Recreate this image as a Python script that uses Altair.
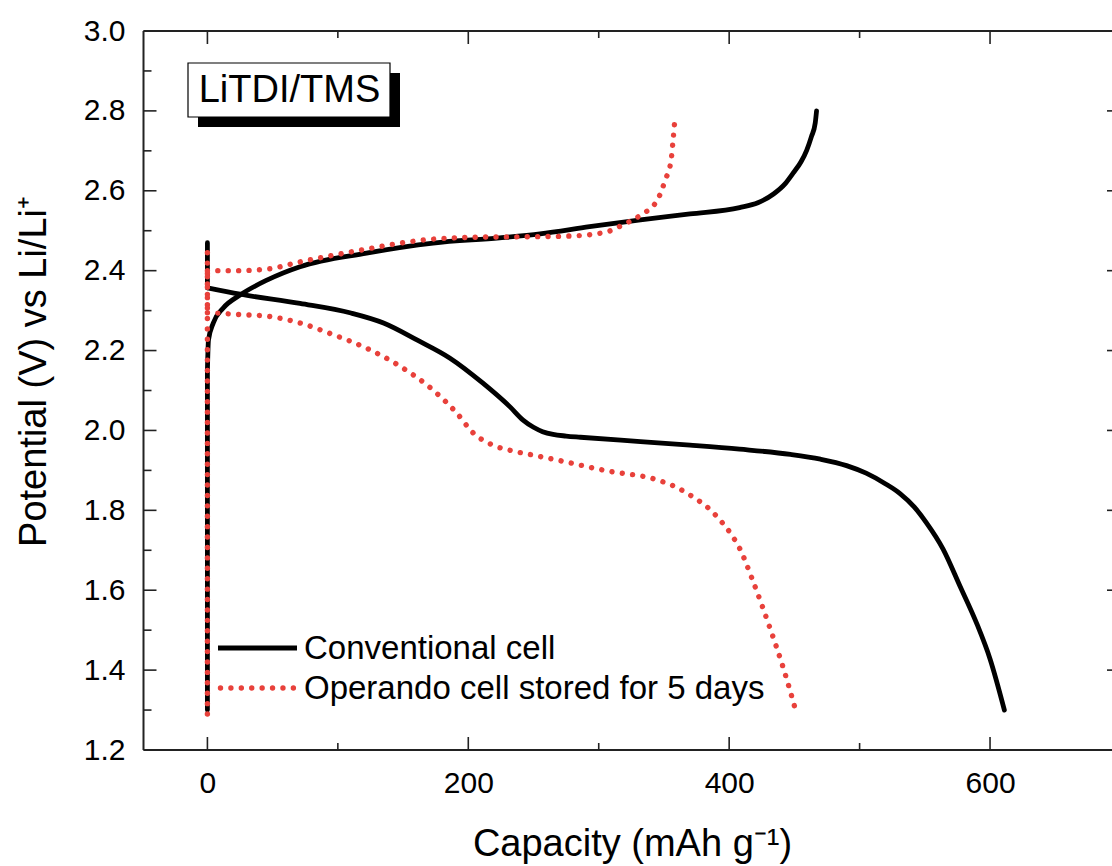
import altair as alt
import pandas as pd

# ---------------- data ----------------
series_names = ["Conventional cell", "Operando cell stored for 5 days"]

conv_dis_c = [0, 0, 25, 71, 110, 135, 161, 186, 211, 232, 242, 250, 257, 265, 275, 286, 332, 370, 408, 447, 470, 490, 505, 520, 531, 542, 551, 564, 577, 590, 600, 611]
conv_dis_v = [2.47, 2.357, 2.341, 2.318, 2.294, 2.269, 2.226, 2.181, 2.119, 2.059, 2.026, 2.008, 1.997, 1.990, 1.986, 1.983, 1.972, 1.963, 1.953, 1.940, 1.928, 1.912, 1.893, 1.866, 1.842, 1.808, 1.770, 1.703, 1.610, 1.515, 1.428, 1.300]

conv_chg_c = [0, 0, 0.8, 4.5, 12, 25, 46, 71, 122, 173, 224, 255, 293, 332, 370, 408, 422, 434, 443, 449, 455, 459.5, 463, 466, 467]
conv_chg_v = [1.30, 2.15, 2.226, 2.269, 2.306, 2.339, 2.377, 2.410, 2.444, 2.469, 2.482, 2.492, 2.510, 2.527, 2.542, 2.558, 2.570, 2.592, 2.618, 2.644, 2.672, 2.702, 2.735, 2.770, 2.800]

op_dis_c = [0, 0, 7, 20, 46, 71, 97, 122, 148, 173, 191, 204, 219, 235, 250, 268, 306, 345, 360, 372, 385, 395, 403, 408, 418, 431, 442, 450.5]
op_dis_v = [2.445, 2.295, 2.294, 2.291, 2.286, 2.269, 2.239, 2.206, 2.160, 2.101, 2.044, 1.993, 1.963, 1.948, 1.938, 1.926, 1.899, 1.876, 1.857, 1.834, 1.803, 1.768, 1.733, 1.705, 1.625, 1.508, 1.400, 1.305]

op_chg_c = [0, 0, 20, 46, 71, 97, 122, 148, 173, 211, 250, 280, 306, 318, 332, 345, 351, 355.5, 357, 358.4]
op_chg_v = [1.29, 2.40, 2.40, 2.404, 2.422, 2.439, 2.454, 2.469, 2.479, 2.484, 2.485, 2.487, 2.497, 2.514, 2.539, 2.577, 2.627, 2.677, 2.727, 2.780]

x_major = [0, 200, 400, 600]
x_minor = [100, 300, 500]
y_major = [1.2, 1.4, 1.6, 1.8, 2.0, 2.2, 2.4, 2.6, 2.8, 3.0]
y_minor = [1.3, 1.5, 1.7, 1.9, 2.1, 2.3, 2.5, 2.7, 2.9]

box_label = "LiTDI/TMS"
x_title = "Capacity (mAh g\u207b\u00b9)"
y_title = "Potential (V) vs Li/Li\u207a"

# ---------------- layout ----------------
W = 968.5
H = 719
X_DOMAIN = [-49, 693.5]
Y_DOMAIN = [1.2, 3.0]
FONT = "Liberation Sans"
BLACK = "#000000"
RED = "#E8413B"
FRAME = "#222222"

xs = alt.Scale(domain=X_DOMAIN, nice=False, zero=False)
ys = alt.Scale(domain=Y_DOMAIN, nice=False, zero=False)


def curve_df(cs, vs, name):
    # split the vertical rest segment (first two points) from the smooth part
    parts = [
        pd.DataFrame({"c": cs[:2], "v": vs[:2], "curve": name + "_rest", "i": range(2)}),
        pd.DataFrame({"c": cs[1:], "v": vs[1:], "curve": name, "i": range(len(cs) - 1)}),
    ]
    return pd.concat(parts)


conv = pd.concat([curve_df(conv_dis_c, conv_dis_v, "dis"), curve_df(conv_chg_c, conv_chg_v, "chg")])
op = pd.concat([curve_df(op_dis_c, op_dis_v, "dis"), curve_df(op_chg_c, op_chg_v, "chg")])

x_axis = alt.Axis(values=x_major, format="d", ticks=False, tickSize=0, domain=False, grid=False,
                  labelFont=FONT, labelFontSize=30, labelColor=BLACK, labelBaseline="alphabetic",
                  labelPadding=42, title=x_title, titleFont=FONT, titleFontSize=38,
                  titleFontWeight="normal", titleColor=BLACK, titleX=488.5, titleY=105,
                  titleAlign="center", titleBaseline="alphabetic")
y_axis = alt.Axis(values=y_major, format=".1f", ticks=False, tickSize=0, domain=False, grid=False,
                  labelFont=FONT, labelFontSize=30, labelColor=BLACK, labelBaseline="middle",
                  labelPadding=18.5, title=y_title, titleFont=FONT, titleFontSize=38,
                  titleFontWeight="normal", titleColor=BLACK, titleX=-98, titleY=340,
                  titleAngle=270, titleAlign="center", titleBaseline="alphabetic")

X = lambda f: alt.X(f, scale=xs, axis=x_axis)
Y = lambda f: alt.Y(f, scale=ys, axis=y_axis)

conv_line = alt.Chart(conv).mark_line(color=BLACK, strokeWidth=4.8, strokeCap="round", strokeJoin="round",
                                      interpolate="monotone").encode(
    x=X("c:Q"), y=Y("v:Q"), detail="curve:N", order="i:Q",
)
op_line = alt.Chart(op).mark_line(color=RED, strokeWidth=5.4, strokeCap="round", strokeDash=[0.01, 10.4],
                                  interpolate="monotone").encode(
    x=X("c:Q"), y=Y("v:Q"), detail="curve:N", order="i:Q",
)

one = pd.DataFrame({"k": [0]})
frame_left = alt.Chart(one).mark_rule(color=FRAME, strokeWidth=2).encode(
    x=alt.value(0), y=alt.value(0), y2=alt.value(H))
frame_top = alt.Chart(one).mark_rule(color=FRAME, strokeWidth=2).encode(
    y=alt.value(0), x=alt.value(0), x2=alt.value(W))
frame_bottom = alt.Chart(one).mark_rule(color=FRAME, strokeWidth=2).encode(
    y=alt.value(H), x=alt.value(0), x2=alt.value(W))

xmaj = pd.DataFrame({"c": x_major})
xmin = pd.DataFrame({"c": x_minor})
ymaj = pd.DataFrame({"v": y_major})
ymin = pd.DataFrame({"v": y_minor})


def xticks(df, length):
    base = alt.Chart(df).mark_rule(color=FRAME, strokeWidth=1.6)
    return [base.encode(x=X("c:Q"), y=alt.value(H), y2=alt.value(H - length)),
            base.encode(x=X("c:Q"), y=alt.value(0), y2=alt.value(length))]


def yticks(df, length):
    base = alt.Chart(df).mark_rule(color=FRAME, strokeWidth=1.6)
    return [base.encode(y=Y("v:Q"), x=alt.value(0), x2=alt.value(length))]


right_stubs = alt.Chart(ymaj).mark_rule(color=FRAME, strokeWidth=1.6).encode(
    y=Y("v:Q"), x=alt.value(W - 5), x2=alt.value(W))

ticks = xticks(xmaj, 13) + xticks(xmin, 7) + yticks(ymaj, 13) + yticks(ymin, 8) + [right_stubs]

# label box with drop shadow
shadow = alt.Chart(one).mark_rect(color=BLACK).encode(
    x=alt.value(54.5), x2=alt.value(256.5), y=alt.value(42), y2=alt.value(96))
box = alt.Chart(one).mark_rect(fill="white", stroke=BLACK, strokeWidth=1.2).encode(
    x=alt.value(44.5), x2=alt.value(246.5), y=alt.value(32), y2=alt.value(86))
box_text = alt.Chart(one).mark_text(font=FONT, fontSize=38, color=BLACK, align="center", baseline="alphabetic").encode(
    x=alt.value(146), y=alt.value(70.7), text=alt.value(box_label))

# legend
leg_black = alt.Chart(one).mark_rule(color=BLACK, strokeWidth=4.8).encode(
    x=alt.value(74.5), x2=alt.value(153.5), y=alt.value(617))
leg_red = alt.Chart(one).mark_rule(color=RED, strokeWidth=5.4, strokeCap="round", strokeDash=[0.01, 10.4]).encode(
    x=alt.value(77), x2=alt.value(154), y=alt.value(657))
leg_t1 = alt.Chart(one).mark_text(font=FONT, fontSize=33, color=BLACK, align="left", baseline="alphabetic").encode(
    x=alt.value(160.5), y=alt.value(628), text=alt.value(series_names[0]))
leg_t2 = alt.Chart(one).mark_text(font=FONT, fontSize=33, color=BLACK, align="left", baseline="alphabetic").encode(
    x=alt.value(160.5), y=alt.value(668), text=alt.value(series_names[1]))

chart = alt.layer(
    conv_line, op_line, *ticks, frame_left, frame_top, frame_bottom,
    shadow, box, box_text, leg_black, leg_red, leg_t1, leg_t2,
).properties(
    width=W, height=H,
    autosize=alt.AutoSizeParams(type="none"),
    padding={"left": 143.5, "top": 31, "right": 0, "bottom": 116},
    background="white",
).configure_view(stroke=None)

chart.save("out.html", embed_options={"renderer": "svg", "actions": False})
